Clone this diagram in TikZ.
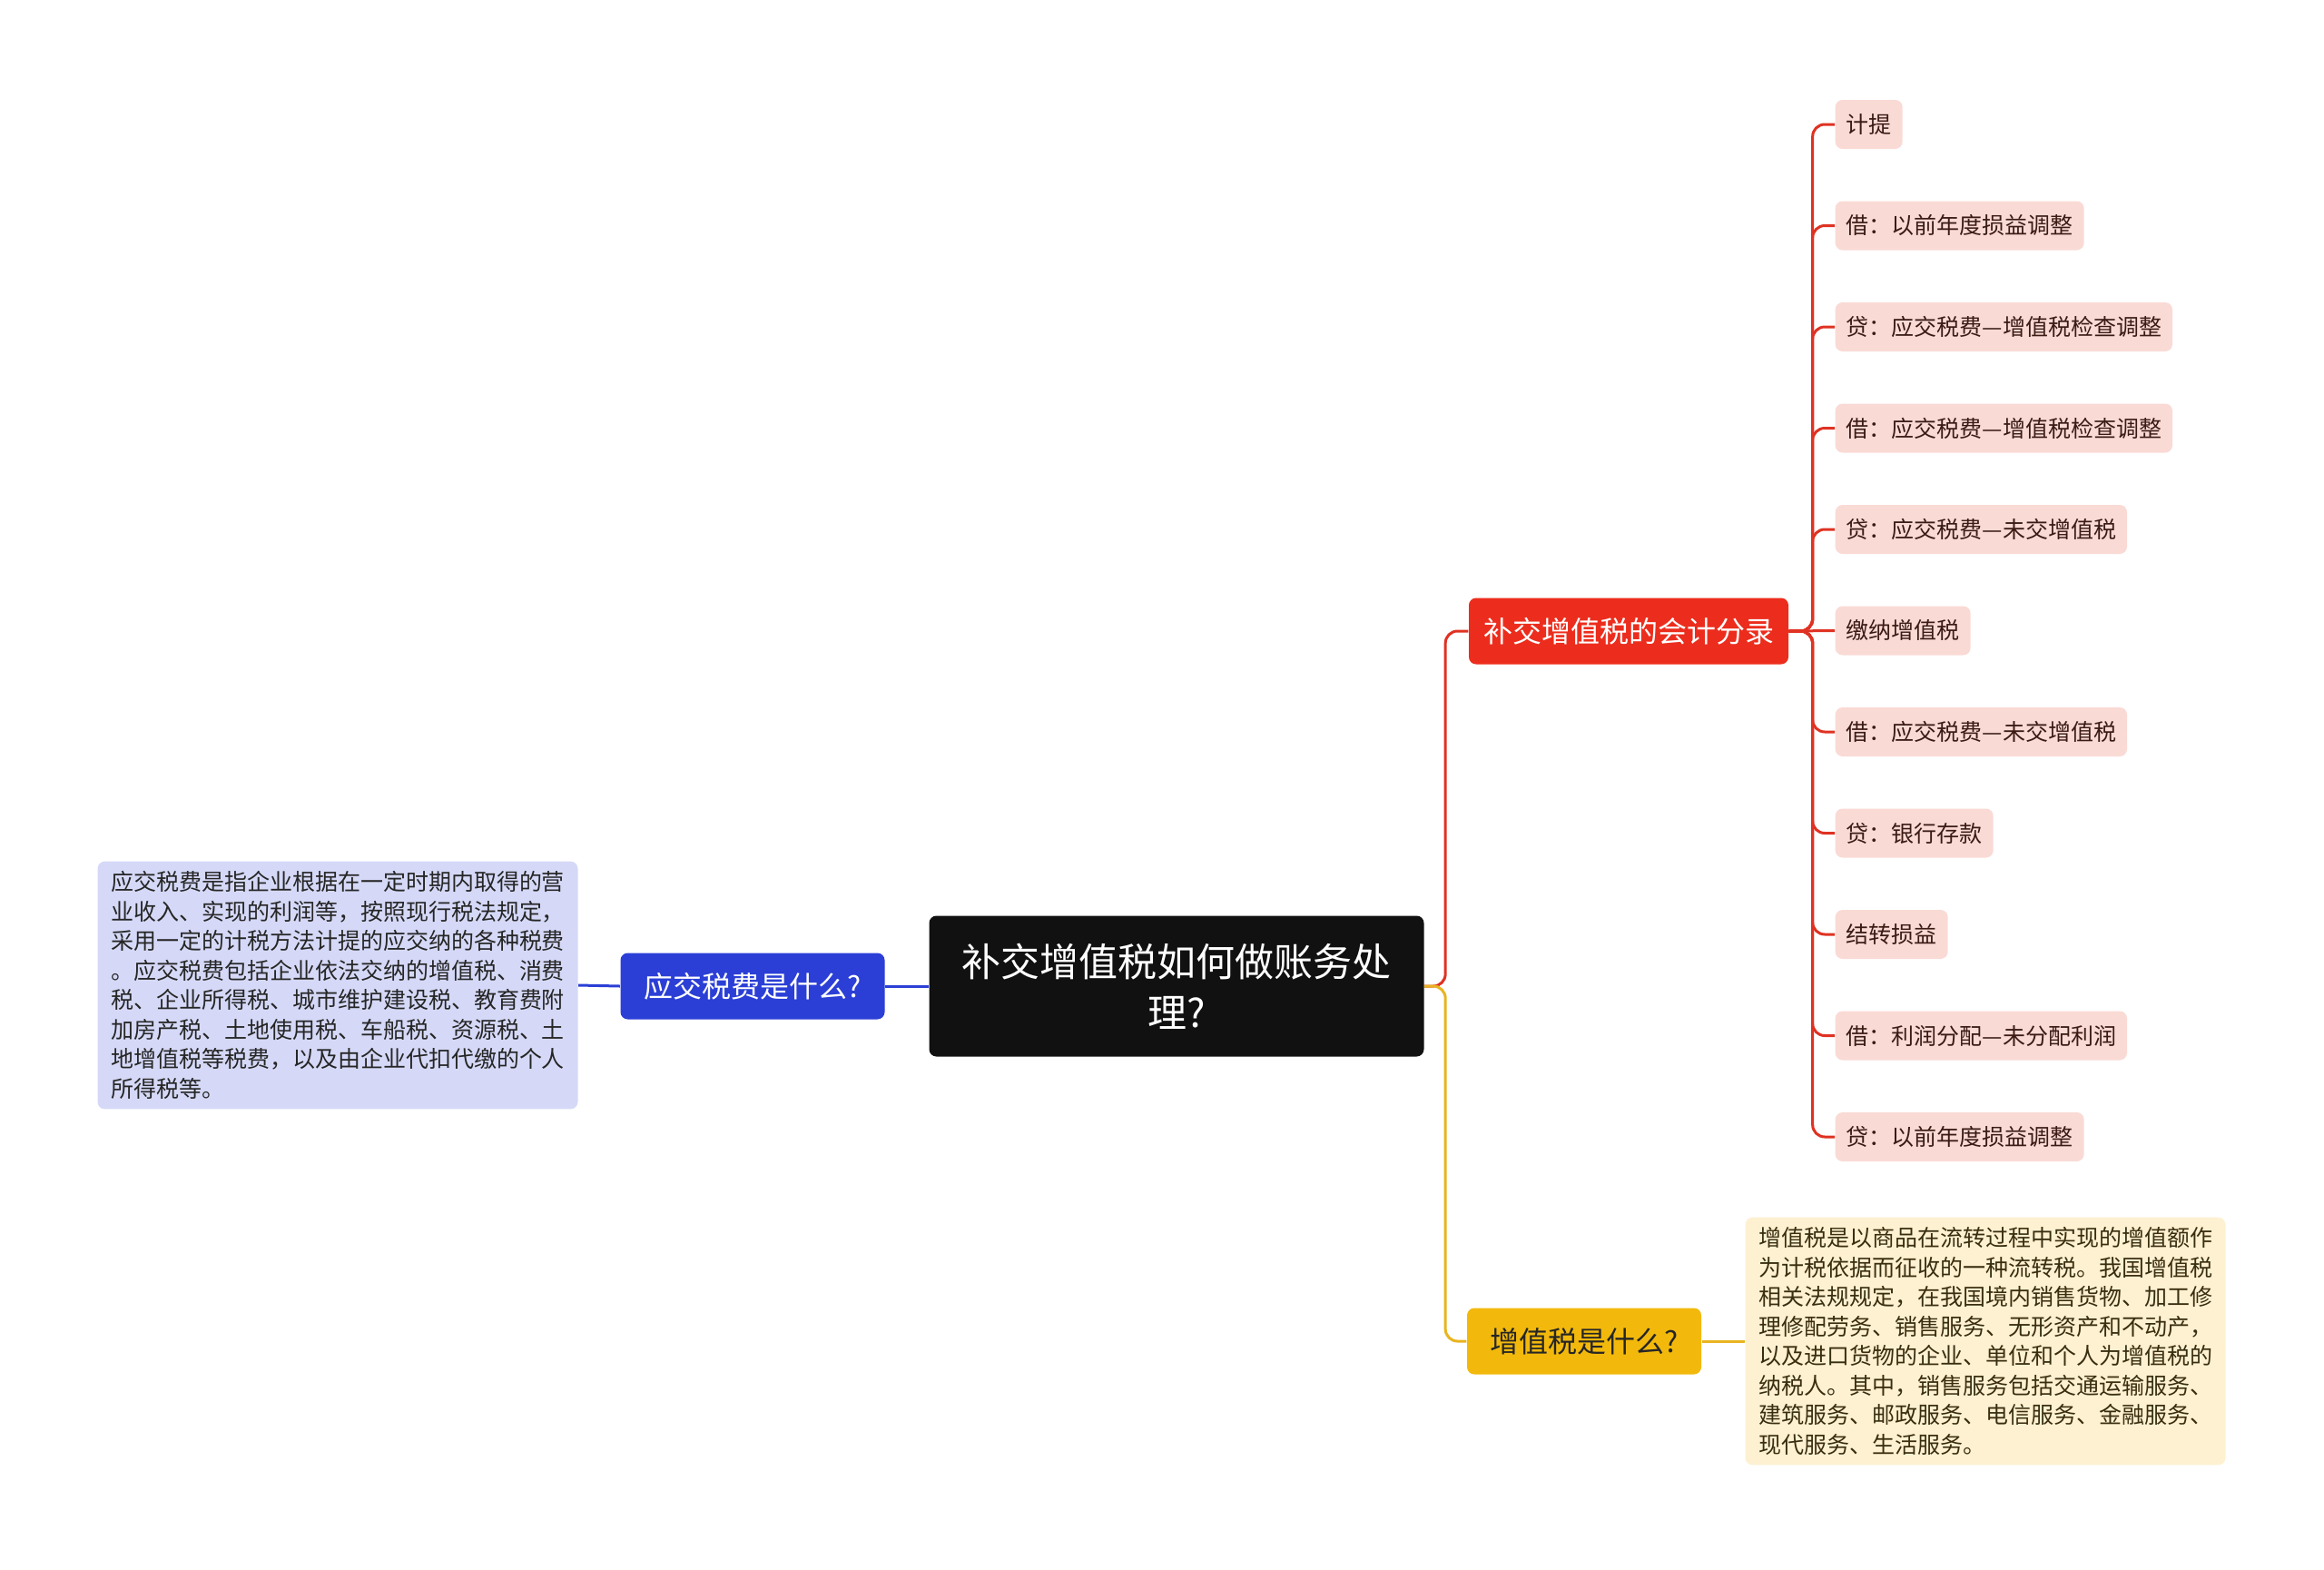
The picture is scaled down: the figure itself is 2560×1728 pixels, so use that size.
\documentclass[tikz,border=0pt]{standalone}
\usepackage{fontspec}
\setmainfont{Noto Sans CJK SC}

\definecolor{rootfill}{HTML}{111111}
\definecolor{bluefill}{HTML}{2B3FD6}
\definecolor{bluesoft}{HTML}{D5D9F7}
\definecolor{redfill}{HTML}{EC2D1D}
\definecolor{redline}{HTML}{DF3222}
\definecolor{redsoft}{HTML}{FADAD5}
\definecolor{redtext}{HTML}{3B1B14}
\definecolor{yelfill}{HTML}{F2B90C}
\definecolor{yelline}{HTML}{E8B420}
\definecolor{yelsoft}{HTML}{FDF1D2}
\definecolor{yeltext}{HTML}{3A2E10}

\begin{document}
\begin{tikzpicture}[x=0.3pt, y=-0.3pt, inner sep=0pt,
		root/.style={fill=rootfill, text=white, rounded corners=2.4pt, align=center,
			minimum width=163.5pt, minimum height=46.5pt, font=\fontsize{12.9pt}{16.8pt}\selectfont},
		branch/.style={rounded corners=2.4pt, inner xsep=4.8pt, minimum height=21.9pt,
			font=\fontsize{9.6pt}{11pt}\selectfont},
		leaf/.style={fill=redsoft, text=redtext, rounded corners=2.4pt, anchor=west,
			inner xsep=3.6pt, minimum height=16.2pt, font=\fontsize{7.5pt}{9pt}\selectfont},
		note/.style={rounded corners=2.4pt, align=left, inner xsep=3.9pt, inner ysep=3.3pt,
			minimum width=158.7pt, font=\fontsize{7.5pt}{9.75pt}\selectfont},
		link/.style={line width=0.9pt, rounded corners=4pt}]
	\useasboundingbox (0,0) rectangle (2560,1728);

	\node[root] (root) at (1296, 1086) {补交增值税如何做账务处\\理?};

	% left branch
	\node[branch, fill=bluefill, text=white, minimum width=87.3pt] (tax) at (829, 1086) {应交税费是什么?};
	\node[note, fill=bluesoft, text=black!85] (taxnote) at (372, 1085) {应交税费是指企业根据在一定时期内取得的营\\业收入、实现的利润等，按照现行税法规定，\\采用一定的计税方法计提的应交纳的各种税费\\。应交税费包括企业依法交纳的增值税、消费\\税、企业所得税、城市维护建设税、教育费附\\加房产税、土地使用税、车船税、资源税、土\\地增值税等税费，以及由企业代扣代缴的个人\\所得税等。};

	% right branches
	\node[branch, fill=redfill, text=white] (entry) at (1794, 695) {补交增值税的会计分录};
	\node[branch, fill=yelfill, text=black!85, minimum width=77.4pt] (vat) at (1745, 1477) {增值税是什么?};
	\node[note, fill=yelsoft, text=yeltext] (vatnote) at (2187, 1477) {增值税是以商品在流转过程中实现的增值额作\\为计税依据而征收的一种流转税。我国增值税\\相关法规规定，在我国境内销售货物、加工修\\理修配劳务、销售服务、无形资产和不动产，\\以及进口货物的企业、单位和个人为增值税的\\纳税人。其中，销售服务包括交通运输服务、\\建筑服务、邮政服务、电信服务、金融服务、\\现代服务、生活服务。};

	\node[leaf] (e1) at (2021, 137) {计提};
	\node[leaf] (e2) at (2021, 248.5) {借：以前年度损益调整};
	\node[leaf] (e3) at (2021, 360) {贷：应交税费—增值税检查调整};
	\node[leaf] (e4) at (2021, 471.5) {借：应交税费—增值税检查调整};
	\node[leaf] (e5) at (2021, 583) {贷：应交税费—未交增值税};
	\node[leaf] (e6) at (2021, 694.5) {缴纳增值税};
	\node[leaf] (e7) at (2021, 806) {借：应交税费—未交增值税};
	\node[leaf] (e8) at (2021, 917.5) {贷：银行存款};
	\node[leaf] (e9) at (2021, 1029) {结转损益};
	\node[leaf] (e10) at (2021, 1140.5) {借：利润分配—未分配利润};
	\node[leaf] (e11) at (2021, 1252) {贷：以前年度损益调整};

	\draw[link, draw=bluefill] (root.west) -- (tax.east);
	\draw[link, draw=bluefill] (tax.west) -- (taxnote.east);
	\draw[link, draw=redline] (root.east) -- ++(23,0) |- (entry.west);
	\draw[link, draw=yelline] (root.east) -- ++(23,0) |- (vat.west);
	\draw[link, draw=yelline] (vat.east) -- (vatnote.west);

	\draw[link, draw=redline] (entry.east) -- ++(26,0) |- (e1.west);
	\draw[link, draw=redline] (entry.east) -- ++(26,0) |- (e2.west);
	\draw[link, draw=redline] (entry.east) -- ++(26,0) |- (e3.west);
	\draw[link, draw=redline] (entry.east) -- ++(26,0) |- (e4.west);
	\draw[link, draw=redline] (entry.east) -- ++(26,0) |- (e5.west);
	\draw[link, draw=redline] (entry.east) -- (e6.west);
	\draw[link, draw=redline] (entry.east) -- ++(26,0) |- (e7.west);
	\draw[link, draw=redline] (entry.east) -- ++(26,0) |- (e8.west);
	\draw[link, draw=redline] (entry.east) -- ++(26,0) |- (e9.west);
	\draw[link, draw=redline] (entry.east) -- ++(26,0) |- (e10.west);
	\draw[link, draw=redline] (entry.east) -- ++(26,0) |- (e11.west);
\end{tikzpicture}
\end{document}
